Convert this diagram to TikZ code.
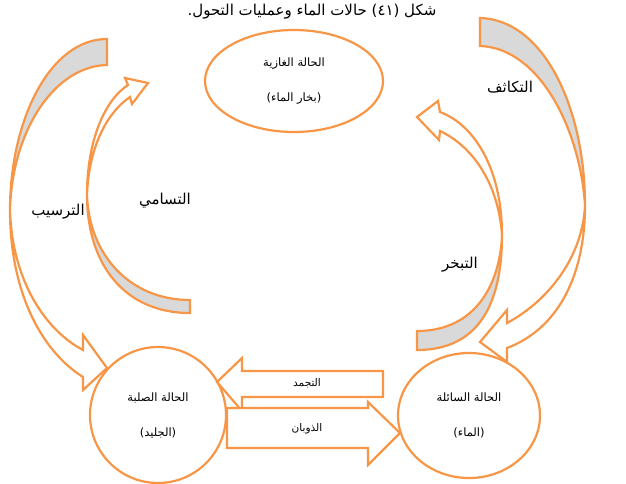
\documentclass[tikz,border=0pt]{standalone}
\usepackage{fontspec}
\usetikzlibrary{shapes.geometric}
\setmainfont{DejaVu Sans}
\newfontfamily\arabicfont[Script=Arabic]{DejaVu Sans}
\TeXXeTstate=1
\newcommand{\artext}[1]{{\arabicfont\beginR #1\endR}}
\definecolor{arrorange}{RGB}{247,150,70}
\definecolor{backgray}{RGB}{217,217,217}
\tikzset{
  statebox/.style={draw=arrorange, line width=2.2pt, fill=white, ellipse, inner sep=0pt, align=center, font=\fontsize{11.5}{14}\selectfont},
  band/.style={draw=arrorange, line width=2.2pt, line join=miter, fill=white},
  back/.style={band, fill=backgray},
  lbl/.style={font=\fontsize{15}{18}\selectfont},
  smalllbl/.style={font=\fontsize{10.5}{13}\selectfont}
}
\begin{document}
\begin{tikzpicture}[x=1pt,y=-1pt]
    \useasboundingbox (0,0) rectangle (626,483);
    \node[lbl] (title) at (312,12) {.\artext{حالات الماء وعمليات التحول} (٤١) \artext{شكل}};
    % states
    \node[statebox, minimum width=178pt, minimum height=102pt] (gas) at (294,81) {\artext{الحالة الغازية}\\[21pt](\artext{بخار الماء})};
    \node[statebox, circle, minimum size=136pt] (solid) at (158,415) {\artext{الحالة الصلبة}\\[21pt](\artext{الجليد})};
    \node[statebox, minimum width=142pt, minimum height=125pt] (liquid) at (469,415.5) {\artext{الحالة السائلة}\\[21pt](\artext{الماء})};
    % deposition, gas to solid
    \draw[back] (107,39) .. controls (50,39) and (10,120) .. (10,210) .. controls (12,130) and (55,66) .. (107,65) -- cycle;
    \draw[band] (10,210) .. controls (10,290) and (40,350) .. (83,377) -- (83,390) -- (107,368) -- (83,335) -- (83,350) .. controls (45,330) and (12,280) .. (10,210) -- cycle;
    % sublimation, solid to gas
    \draw[back] (190,313) .. controls (125,313) and (87,265) .. (87,195) .. controls (89,255) and (130,300) .. (190,300) -- cycle;
    \draw[band] (87,195) .. controls (87,140) and (105,100) .. (128,85) -- (125,78) -- (148,83) -- (132,104) -- (130,97) .. controls (108,112) and (89,145) .. (87,195) -- cycle;
    % evaporation, liquid to gas
    \draw[back] (417,350) .. controls (478,350) and (502,305) .. (502,235) .. controls (500,285) and (475,331) .. (417,331) -- cycle;
    \draw[band] (502,235) .. controls (502,170) and (475,125) .. (440,112) -- (438,101) -- (417,117) -- (439,140) -- (440,131) .. controls (470,145) and (498,180) .. (502,235) -- cycle;
    % condensation, gas to liquid
    \draw[back] (480,18) .. controls (545,20) and (585,110) .. (585,205) .. controls (580,130) and (540,48) .. (480,46) -- cycle;
    \draw[band] (585,205) .. controls (585,280) and (555,330) .. (507,348) -- (507,362) -- (480,342) -- (507,310) -- (507,323) .. controls (550,300) and (583,255) .. (585,205) -- cycle;
    % freezing and melting
    \draw[band] (217,382) -- (242,358) -- (242,371) -- (383,371) -- (383,397) -- (242,397) -- (242,411) -- cycle;
    \draw[band] (227,408) -- (368,408) -- (368,402) -- (400,433) -- (368,465) -- (368,448) -- (227,448) -- cycle;
    % labels
    \node[lbl] (deposition) at (58,212) {\artext{الترسيب}};
    \node[lbl] (sublimation) at (165,201) {\artext{التسامي}};
    \node[lbl] (condensation) at (510,87) {\artext{التكاثف}};
    \node[lbl] (evaporation) at (460,265) {\artext{التبخر}};
    \node[smalllbl] (freezing) at (307,383) {\artext{التجمد}};
    \node[smalllbl] (melting) at (307,429) {\artext{الذوبان}};
\end{tikzpicture}
\end{document}
